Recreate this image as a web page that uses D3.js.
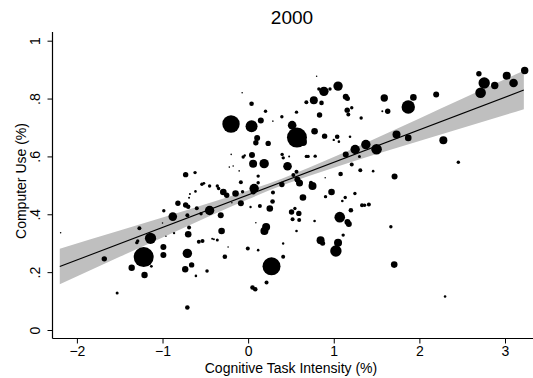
<!DOCTYPE html>
<html>
<head>
<meta charset="utf-8">
<script src="https://cdn.jsdelivr.net/npm/d3@7"></script>
<style>
  html, body { margin: 0; padding: 0; background: #fff; }
  svg { display: block; font-family: "Liberation Sans", Arial, Helvetica, sans-serif; }
</style>
</head>
<body>
<div id="app"></div>
<script>
// occupations: [cognitive task intensity, computer use share, employment weight]
const occupations = [
  [-2.19, 0.336, 0.6], [-1.68, 0.246, 7.3], [-1.53, 0.128, 2.3], [-1.36, 0.215, 10.2],
  [-1.27, 0.352, 4], [-1.30, 0.302, 2.9], [-1.29, 0.308, 2.9], [-1.14, 0.317, 31.4],
  [-1.22, 0.252, 100], [-1.21, 0.19, 10.2], [-1.13, 0.22, 2], [-0.985, 0.412, 2.9],
  [-0.88, 0.392, 18.5], [-1.0, 0.37, 0.6], [-0.99, 0.287, 9], [-0.99, 0.259, 9],
  [-0.865, 0.335, 1.4], [-0.96, 0.324, 0.6], [-0.82, 0.438, 7.3], [-0.73, 0.432, 7.3],
  [-0.70, 0.426, 4.8], [-0.73, 0.537, 7.3], [-0.62, 0.544, 2.9], [-0.54, 0.504, 2.9],
  [-0.517, 0.507, 2], [-0.45, 0.498, 2.9], [-0.615, 0.479, 1.7], [-0.68, 0.47, 1],
  [-0.69, 0.457, 1], [-0.60, 0.421, 4], [-0.55, 0.402, 2.9], [-0.45, 0.413, 22.1],
  [-0.69, 0.354, 4], [-0.70, 0.331, 10.9], [-0.71, 0.397, 4], [-0.576, 0.305, 4],
  [-0.533, 0.308, 4], [-0.42, 0.315, 1], [-0.71, 0.265, 22.1], [-0.735, 0.21, 10.2],
  [-0.66, 0.225, 7.3], [-0.61, 0.187, 1.7], [-0.48, 0.204, 3.2], [-0.71, 0.078, 5.3],
  [-0.36, 0.498, 2.9], [-0.345, 0.489, 2.9], [-0.29, 0.477, 10.9], [-0.25, 0.466, 7.3],
  [-0.085, 0.511, 4], [-0.147, 0.472, 10.9], [-0.065, 0.478, 2.9], [0.07, 0.489, 22.1],
  [0.06, 0.478, 7.3], [0.117, 0.509, 2.9], [0.394, 0.503, 7.3], [0.575, 0.52, 9],
  [0.6, 0.508, 12.3], [0.29, 0.475, 4], [-0.32, 0.397, 9], [-0.19, 0.44, 0.6],
  [-0.085, 0.438, 9], [0.028, 0.425, 1.4], [0.137, 0.429, 4], [0.253, 0.42, 10.9],
  [0.285, 0.444, 5.3], [0.64, 0.458, 10.9], [0.752, 0.498, 16], [0.974, 0.477, 10.9],
  [0.904, 0.461, 2.9], [1.134, 0.458, 2.9], [1.10, 0.446, 1.7], [1.247, 0.472, 2.9],
  [1.33, 0.431, 4], [1.36, 0.431, 2.9], [1.41, 0.434, 4], [1.2, 0.414, 5.3],
  [1.07, 0.39, 28.1], [1.16, 0.373, 9], [1.176, 0.366, 9], [1.11, 0.328, 2.9],
  [1.05, 0.302, 16], [1.025, 0.273, 32.5], [0.846, 0.31, 16], [0.87, 0.3, 6.3],
  [0.776, 0.377, 1.7], [0.565, 0.342, 1.7], [0.507, 0.408, 7.3], [0.592, 0.403, 7.3],
  [0.546, 0.42, 2.9], [0.519, 0.383, 4], [0.596, 0.38, 4], [0.21, 0.356, 16],
  [0.19, 0.342, 16], [0.09, 0.371, 0.6], [0.409, 0.299, 1.4], [0.409, 0.253, 4],
  [0.273, 0.22, 81], [0.215, 0.164, 4], [0.051, 0.147, 5.3], [0.083, 0.141, 5.3],
  [-0.004, 0.282, 4], [0.117, 0.276, 1.7], [-0.234, 0.287, 0.6], [-0.272, 0.253, 5.3],
  [-0.31, 0.342, 10.9], [-0.40, 0.314, 1], [-0.36, 0.311, 2.3], [-0.07, 0.82, 0.6],
  [0.04, 0.782, 5.3], [0.203, 0.756, 2.9], [0.289, 0.722, 0.6], [0.148, 0.724, 9],
  [-0.20, 0.712, 75.7], [0.04, 0.704, 36], [0.394, 0.737, 2.9], [0.565, 0.753, 2.9],
  [0.68, 0.787, 4], [0.767, 0.794, 16], [0.857, 0.785, 5.3], [0.834, 0.743, 7.3],
  [0.80, 0.877, 0.6], [1.05, 0.843, 22.1], [0.885, 0.825, 22.1], [0.826, 0.833, 2.9],
  [0.956, 0.833, 2.9], [1.14, 0.806, 9], [1.16, 0.8, 6.3], [1.157, 0.76, 7.3],
  [1.21, 0.768, 2.9], [1.17, 0.745, 4], [1.32, 0.733, 2.9], [0.514, 0.708, 18.5],
  [0.57, 0.665, 100], [0.64, 0.65, 16], [0.776, 0.687, 10.9], [0.893, 0.67, 7.3],
  [1.0, 0.657, 1.4], [1.04, 0.668, 5.3], [1.06, 0.651, 1.7], [1.19, 0.668, 1.7],
  [1.375, 0.641, 22.1], [1.25, 0.624, 22.1], [1.14, 0.607, 9], [0.105, 0.664, 9],
  [0.09, 0.647, 7.3], [0.234, 0.645, 7.3], [0.058, 0.575, 16], [0.187, 0.575, 22.1],
  [0.045, 0.605, 9], [-0.198, 0.607, 0.6], [-0.22, 0.563, 0.6], [-0.175, 0.567, 0.6],
  [-0.058, 0.598, 2.9], [-0.04, 0.603, 1.4], [-0.105, 0.55, 0.6], [0.117, 0.532, 2.9],
  [0.397, 0.607, 2.9], [0.41, 0.595, 2.9], [0.479, 0.6, 1], [0.46, 0.566, 18.5],
  [0.68, 0.6, 2.9], [0.70, 0.6, 2.9], [0.783, 0.601, 2.9], [0.565, 0.547, 4],
  [1.08, 0.539, 5.3], [1.21, 0.572, 4], [1.31, 0.552, 4], [1.30, 0.60, 2.3],
  [0.9, 0.526, 0.6], [0.528, 0.536, 4], [0.734, 0.509, 4], [1.46, 0.549, 1.7],
  [1.59, 0.802, 13.7], [1.567, 0.756, 1], [1.63, 0.756, 7.3], [1.87, 0.771, 44.9],
  [1.93, 0.804, 10.9], [2.196, 0.814, 9], [2.695, 0.886, 7.3], [2.757, 0.854, 32.5],
  [2.715, 0.82, 28.1], [2.88, 0.845, 13.7], [3.02, 0.879, 16], [3.10, 0.854, 18.5],
  [3.23, 0.897, 13.7], [1.50, 0.625, 28.1], [1.733, 0.676, 16], [1.87, 0.664, 10.9],
  [2.28, 0.656, 16], [2.455, 0.58, 2.9], [1.71, 0.531, 9], [1.667, 0.357, 2.9],
  [1.706, 0.226, 10.9], [2.30, 0.116, 1.7]
];

// fitted line and 95% confidence band
const bandX  = [-2.2, -1.5, -1, -0.5, 0, 0.4, 1, 1.5, 2, 2.5, 3.22];
const bandLo = [0.158, 0.253, 0.320, 0.387, 0.452, 0.500, 0.561, 0.608, 0.653, 0.698, 0.763];
const bandHi = [0.281, 0.344, 0.389, 0.435, 0.482, 0.524, 0.598, 0.664, 0.731, 0.799, 0.896];
const fitX = [-2.2, 3.22];
const fitY = [0.2195, 0.8293];

const xTicks = [-2, -1, 0, 1, 2, 3];
const yTicks = [0, 0.2, 0.4, 0.6, 0.8, 1];
const yTickLabels = ["0", ".2", ".4", ".6", ".8", "1"];

const width = 533, height = 378;

const svg = d3.select("#app").append("svg")
  .attr("width", width)
  .attr("height", height);

const x = d3.scaleLinear().domain([-2, 3]).range([76.9, 505]);
const y = d3.scaleLinear().domain([0, 1]).range([330, 40.7]);
const r = d3.scaleSqrt().domain([0, 100]).range([0, 10]);

const axisLeftX = 52.5, axisBottomY = 338.5, axisTopY = 32;

// confidence band
const band = bandX.map((v, i) => ({ x: v, lo: bandLo[i], hi: bandHi[i] }));
svg.append("path")
  .datum(band)
  .attr("fill", "#bfbfbf")
  .attr("d", d3.area()
    .x(d => x(d.x))
    .y0(d => y(d.lo))
    .y1(d => y(d.hi))
    .curve(d3.curveMonotoneX));

// fitted line
svg.append("path")
  .datum(fitX.map((v, i) => [v, fitY[i]]))
  .attr("fill", "none")
  .attr("stroke", "#000")
  .attr("stroke-width", 1.1)
  .attr("d", d3.line().x(d => x(d[0])).y(d => y(d[1])));

// occupations
svg.append("g")
  .selectAll("circle")
  .data(occupations)
  .join("circle")
  .attr("cx", d => x(d[0]))
  .attr("cy", d => y(d[1]))
  .attr("r", d => r(d[2]))
  .attr("fill", "#000");

// axes
const xAxis = svg.append("g")
  .attr("transform", `translate(0,${axisBottomY})`)
  .call(d3.axisBottom(x).tickValues(xTicks).tickSize(5).tickPadding(3)
    .tickFormat(d => (d < 0 ? "\u2212" + Math.abs(d) : d)));
xAxis.select(".domain").remove();
xAxis.append("line")
  .attr("x1", axisLeftX).attr("x2", width)
  .attr("stroke", "#000").attr("stroke-width", 1.2);
xAxis.selectAll(".tick line").attr("stroke", "#000");
xAxis.selectAll(".tick text")
  .attr("fill", "#000")
  .attr("font-size", 14);

const yAxis = svg.append("g")
  .attr("transform", `translate(${axisLeftX},0)`)
  .call(d3.axisLeft(y).tickValues(yTicks).tickSize(5)
    .tickFormat((d, i) => yTickLabels[i]));
yAxis.select(".domain").remove();
yAxis.append("line")
  .attr("y1", axisTopY).attr("y2", axisBottomY)
  .attr("stroke", "#000").attr("stroke-width", 1.2);
yAxis.selectAll(".tick line").attr("stroke", "#000");
yAxis.selectAll(".tick text")
  .attr("fill", "#000")
  .attr("font-size", 14)
  .attr("x", 0).attr("dy", 0)
  .attr("text-anchor", "middle")
  .attr("transform", "translate(-13,0) rotate(-90)");

// titles
svg.append("text")
  .attr("x", 292).attr("y", 24)
  .attr("text-anchor", "middle")
  .attr("font-size", 19)
  .text("2000");

svg.append("text")
  .attr("x", 291).attr("y", 373)
  .attr("text-anchor", "middle")
  .attr("font-size", 14)
  .text("Cognitive Task Intensity (%)");

svg.append("text")
  .attr("transform", "translate(26,181) rotate(-90)")
  .attr("text-anchor", "middle")
  .attr("font-size", 14)
  .text("Computer Use (%)");
</script>
</body>
</html>
